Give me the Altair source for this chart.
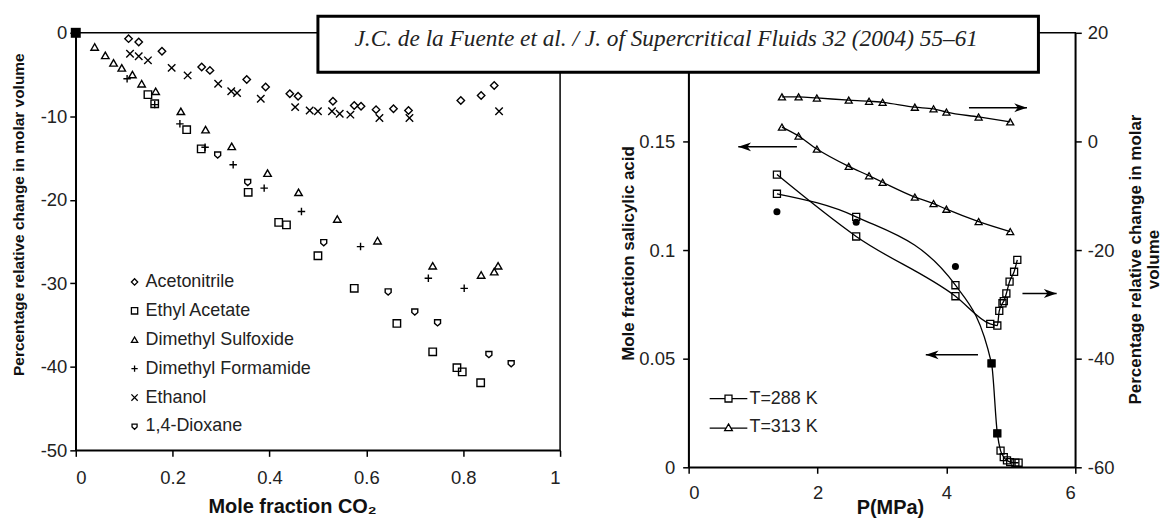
import altair as alt
import pandas as pd

# ---------------- Left panel: % change in molar volume vs mole fraction CO2 ----------------
solvents = ["Acetonitrile", "Ethyl Acetate", "Dimethyl Sulfoxide",
            "Dimethyl Formamide", "Ethanol", "1,4-Dioxane"]

acn_x = [0.109, 0.130, 0.178, 0.260, 0.277, 0.353, 0.392, 0.442, 0.459, 0.531,
         0.575, 0.589, 0.620, 0.656, 0.687, 0.795, 0.837, 0.864]
acn_y = [-0.7, -1.1, -2.2, -4.1, -4.5, -5.6, -6.5, -7.3, -7.6, -8.2,
         -8.7, -8.8, -9.2, -9.1, -9.3, -8.1, -7.5, -6.3]

ea_x = [0.149, 0.163, 0.229, 0.259, 0.356, 0.419, 0.435, 0.500, 0.575, 0.663,
        0.737, 0.787, 0.798, 0.836]
ea_y = [-7.4, -8.5, -11.6, -13.9, -19.1, -22.7, -23.0, -26.7, -30.6, -34.8,
        -38.2, -40.1, -40.6, -41.9]

dmso_x = [0.039, 0.061, 0.078, 0.095, 0.117, 0.136, 0.165, 0.217, 0.268, 0.322,
          0.396, 0.460, 0.540, 0.623, 0.737, 0.837, 0.864, 0.872]
dmso_y = [-1.7, -2.7, -3.6, -4.2, -5.0, -6.1, -7.0, -9.4, -11.6, -13.6,
          -16.8, -19.1, -22.3, -24.9, -27.9, -29.0, -28.6, -27.9]

dmf_x = [0.106, 0.163, 0.215, 0.267, 0.325, 0.389, 0.466, 0.588, 0.728, 0.802]
dmf_y = [-5.5, -8.6, -10.9, -13.7, -15.8, -18.6, -21.4, -25.6, -29.4, -30.6]

eth_x = [0.112, 0.130, 0.149, 0.198, 0.231, 0.294, 0.321, 0.333, 0.382, 0.453,
         0.483, 0.500, 0.529, 0.545, 0.567, 0.627, 0.689, 0.874]
eth_y = [-2.5, -2.8, -3.3, -4.2, -5.1, -6.1, -7.0, -7.2, -7.9, -8.9,
         -9.3, -9.4, -9.4, -9.7, -9.8, -10.2, -10.2, -9.4]

diox_x = [0.293, 0.355, 0.512, 0.645, 0.700, 0.747, 0.853, 0.899]
diox_y = [-14.6, -17.9, -25.1, -31.0, -33.4, -34.7, -38.5, -39.6]

origin_x = [0.0]
origin_y = [0.0]

# ---------------- Right panel: salicylic acid / CO2 ----------------
p313 = [1.448, 1.706, 1.99, 2.484, 2.80, 3.01, 3.51, 3.80, 4.00, 4.50, 4.99]
sol313 = [0.1566, 0.1525, 0.1465, 0.1385, 0.1342, 0.1312, 0.1244, 0.1214, 0.1188, 0.1131, 0.1085]
vol313 = [8.2, 8.2, 8.0, 7.6, 7.4, 7.2, 6.3, 6.0, 5.4, 4.5, 3.6]

p288_sol = [1.37, 2.60, 4.14, 4.70, 4.79, 4.84, 4.89, 4.94, 4.99, 5.07, 5.12]
sol288 = [0.1259, 0.1153, 0.0838, 0.0478, 0.0156, 0.0077, 0.0047, 0.0032, 0.0024, 0.0021, 0.0021]

p288_vol = [1.37, 2.60, 4.14, 4.68, 4.79, 4.82, 4.87, 4.89, 4.93, 4.98, 5.05, 5.10]
vol288 = [-6.1, -17.5, -28.5, -33.6, -33.9, -31.2, -29.8, -29.4, -28.0, -25.8, -24.0, -21.8]

p_circ = [1.37, 2.60, 4.14]
x_circ = [0.1176, 0.1128, 0.0924]

p_fsq = [4.70, 4.79]
x_fsq = [0.0478, 0.0156]

# arrows: tip, tail, level
arrL_tip = [0.77, 3.68]
arrL_tail = [1.68, 4.49]
arrL_y = [0.1475, 0.0518]
arrR_tip = [5.25, 5.71]
arrR_tail = [4.35, 5.18]
arrR_y = [6.2, -28.0]

temps = ["T=288 K", "T=313 K"]
header = "J.C. de la Fuente et al. / J. of Supercritical Fluids 32 (2004) 55\u201361"

# ---------------- build tables ----------------
rows = []
for name, xs, ys in zip(solvents, [acn_x, ea_x, dmso_x, dmf_x, eth_x, diox_x],
                        [acn_y, ea_y, dmso_y, dmf_y, eth_y, diox_y]):
    for a, b in zip(xs, ys):
        rows.append({"x": a, "y": b, "solvent": name})
df_left = pd.DataFrame(rows)
df_origin = pd.DataFrame({"x": origin_x, "y": origin_y})

df_sol288 = pd.DataFrame({"P": p288_sol, "val": sol288, "T": temps[0]})
df_sol313 = pd.DataFrame({"P": p313, "val": sol313, "T": temps[1]})
df_vol288 = pd.DataFrame({"P": p288_vol, "val": vol288})
df_vol313 = pd.DataFrame({"P": p313, "val": vol313})
df_circ = pd.DataFrame({"P": p_circ, "val": x_circ})
df_fsq = pd.DataFrame({"P": p_fsq, "val": x_fsq})
df_arrL = pd.DataFrame({"P": arrL_tip, "P2": arrL_tail, "val": arrL_y})
df_arrR = pd.DataFrame({"P": arrR_tip, "P2": arrR_tail, "val": arrR_y})
df_leg = pd.concat([df_sol288, df_sol313], ignore_index=True)
df_head = pd.DataFrame({"t": [header]})

minus_fix = "replace(datum.label, '\u2212', '-')"

# ---------------- left panel ----------------
plus_path = "M-1,0H1M0,-1V1"
cross_path = "M-1,-1L1,1M-1,1L1,-1"
shield_path = "M-0.8,-0.75H0.8V0.2L0,0.9L-0.8,0.2Z"
shapes = ["diamond", "square", "triangle-up", plus_path, cross_path, shield_path]

xL = alt.X("x:Q", scale=alt.Scale(domain=[0, 1], nice=False, zero=False),
           axis=alt.Axis(values=[0, 0.2, 0.4, 0.6, 0.8, 1], format="~r",
                         title="Mole fraction CO\u2082", titleFontSize=20,
                         labelPadding=12, titlePadding=10, titleX=217))
yL = alt.Y("y:Q", scale=alt.Scale(domain=[-50, 0], nice=False),
           axis=alt.Axis(values=[-50, -40, -30, -20, -10, 0], format="~r", labelExpr=minus_fix,
                         title="Percentage relative change in molar volume", titleFontSize=15.5,
                         labelPadding=3, titlePadding=14, titleY=182))

left_pts = alt.Chart(df_left).mark_point(
    filled=False, size=56, strokeWidth=1.4, color="black", opacity=1
).encode(
    x=xL, y=yL,
    shape=alt.Shape("solvent:N", sort=solvents,
                    scale=alt.Scale(domain=solvents, range=shapes),
                    legend=alt.Legend(orient="none", legendX=50, legendY=241, title=None,
                                      labelFont="Liberation Sans", labelFontSize=18,
                                      labelColor="#222", labelLimit=0, symbolSize=40,
                                      symbolStrokeWidth=1.3,
                                      symbolStrokeColor="black", rowPadding=11,
                                      labelOffset=2, padding=0))
)
origin_pt = alt.Chart(df_origin).mark_square(size=100, color="black", opacity=1).encode(x=xL, y=yL)

left = alt.layer(left_pts, origin_pt).properties(width=486, height=419)

# ---------------- right panel ----------------
xR = alt.X("P:Q", scale=alt.Scale(domain=[0, 6], nice=False),
           axis=alt.Axis(values=[0, 2, 4, 6], title="P(MPa)", titleFontSize=20,
                         labelPadding=10, titlePadding=-4, titleX=202))
x2R = alt.X2("P2")
ySol = alt.Y("val:Q", scale=alt.Scale(domain=[0, 0.2], nice=False),
             axis=alt.Axis(orient="left", values=[0, 0.05, 0.1, 0.15], format="~r",
                           title="Mole fraction salicylic acid", titleFontSize=17,
                           labelPadding=8, titlePadding=1, titleY=221))
yVol = alt.Y("val:Q", scale=alt.Scale(domain=[-60, 20], nice=False),
             axis=alt.Axis(orient="right", values=[-60, -40, -20, 0, 20], format="~r",
                           labelExpr=minus_fix,
                           title=["Percentage relative change in molar", "volume"],
                           titleFontSize=17, titleAngle=-90, titleBaseline="top",
                           titleLineHeight=18, labelPadding=6, titlePadding=-4, titleY=227))

line_kw = dict(interpolate="monotone", color="black", strokeWidth=1.3)
pt_kw = dict(filled=False, size=50, strokeWidth=1.3, color="black", opacity=1)
head_path = "M0,0L-1.6,-0.55L-1.15,0L-1.6,0.55Z"

sq_leg = "M-2.7,0H-0.5M0.5,0H2.7M-0.5,-0.5H0.5V0.5H-0.5Z"
tri_leg = "M-2.7,0.1H-0.35M0.35,0.1H2.7M0,-0.5L0.55,0.45H-0.55Z"

sol_group = alt.layer(
    alt.Chart(df_sol288).mark_line(**line_kw).encode(x=xR, y=ySol),
    alt.Chart(df_sol313).mark_line(**line_kw).encode(x=xR, y=ySol),
    alt.Chart(df_sol288).mark_point(shape="square", **pt_kw).encode(x=xR, y=ySol),
    alt.Chart(df_sol313).mark_point(shape="triangle-up", **pt_kw).encode(x=xR, y=ySol),
    alt.Chart(df_circ).mark_circle(size=50, color="black", opacity=1).encode(x=xR, y=ySol),
    alt.Chart(df_fsq).mark_square(size=55, color="black", opacity=1).encode(x=xR, y=ySol),
    alt.Chart(df_arrL).mark_rule(color="black", strokeWidth=1.5).encode(x=xR, x2=x2R, y=ySol),
    alt.Chart(df_arrL).mark_point(shape=head_path, filled=True, size=256, angle=180,
                                  color="black", opacity=1).encode(x=xR, y=ySol),
    alt.Chart(df_leg).mark_point(filled=False, size=0, strokeWidth=1.3, color="black",
                                 opacity=1).encode(
        x=xR, y=ySol,
        shape=alt.Shape("T:N", scale=alt.Scale(domain=temps, range=[sq_leg, tri_leg]),
                        legend=alt.Legend(orient="none", legendX=31, legendY=358, title=None,
                                          labelFont="Liberation Sans", labelFontSize=18,
                                          labelColor="#222", labelLimit=0, symbolSize=196,
                                          symbolStrokeWidth=1.3, symbolStrokeColor="black",
                                          rowPadding=11, labelOffset=12, padding=0)))
)

vol_group = alt.layer(
    alt.Chart(df_vol288).mark_line(**line_kw).encode(x=xR, y=yVol),
    alt.Chart(df_vol313).mark_line(**line_kw).encode(x=xR, y=yVol),
    alt.Chart(df_vol288).mark_point(shape="square", **pt_kw).encode(x=xR, y=yVol),
    alt.Chart(df_vol313).mark_point(shape="triangle-up", **pt_kw).encode(x=xR, y=yVol),
    alt.Chart(df_arrR).mark_rule(color="black", strokeWidth=1.5).encode(x=xR, x2=x2R, y=yVol),
    alt.Chart(df_arrR).mark_point(shape=head_path, filled=True, size=256, angle=0,
                                  color="black", opacity=1).encode(x=xR, y=yVol),
)

box = alt.Chart(df_head).mark_rect(fill="white", stroke="black", strokeWidth=3).encode(
    x=alt.value(-372), x2=alt.value(351), y=alt.value(-16.5), y2=alt.value(39.5))
box_text = alt.Chart(df_head).mark_text(
    font="Liberation Serif", fontStyle="italic", fontSize=23.4, color="#222",
    align="center", baseline="middle").encode(
    x=alt.value(-22.5), y=alt.value(6), text="t:N")

right = alt.layer(sol_group, vol_group, box, box_text).resolve_scale(
    y="independent").properties(width=388, height=436)

chart = alt.hconcat(left, right, spacing=129, bounds="flush").resolve_scale(
    x="independent", y="independent", shape="independent"
).resolve_legend(shape="independent").properties(
    padding={"left": 2, "top": 5, "right": 0, "bottom": 0},
    background="white"
).configure_view(
    stroke="black", strokeWidth=1.5
).configure_axis(
    labelFont="Liberation Sans", labelFontSize=18.5, labelColor="#222",
    titleFont="Liberation Sans", titleFontWeight="bold", titleColor="#111",
    tickSize=6, domainColor="black", tickColor="black", domainWidth=1.5,
    tickWidth=1.5, grid=False
)

chart.save("out.html", embed_options={"renderer": "svg", "actions": False})
